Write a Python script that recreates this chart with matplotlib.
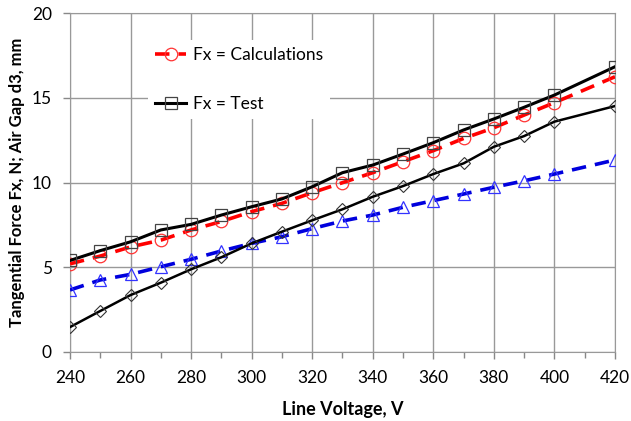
import matplotlib.pyplot as plt
from matplotlib.ticker import MultipleLocator

plt.rcParams['font.family'] = ['Lato', 'DejaVu Sans']

voltage = [240, 250, 260, 270, 280, 290, 300, 310, 320, 330, 340, 350, 360, 370, 380, 390, 400, 420]
fx_calc = [5.2, 5.66, 6.2, 6.6, 7.2, 7.7, 8.28, 8.77, 9.4, 9.99, 10.58, 11.23, 11.88, 12.6, 13.23, 13.98, 14.71, 16.24]
fx_test = [5.4, 5.98, 6.5, 7.2, 7.53, 8.08, 8.57, 9.03, 9.75, 10.58, 11.03, 11.68, 12.35, 13.1, 13.75, 14.44, 15.16, 16.83]
gap_test = [1.47, 2.42, 3.36, 4.09, 4.88, 5.59, 6.41, 7.1, 7.77, 8.42, 9.16, 9.79, 10.5, 11.13, 12.11, 12.74, 13.59, 14.51]
gap_calc = [3.66, 4.25, 4.58, 5.03, 5.47, 5.96, 6.41, 6.8, 7.28, 7.73, 8.08, 8.54, 8.93, 9.32, 9.72, 10.1, 10.5, 11.33]

fig = plt.figure(figsize=(6.31, 4.21), dpi=100)
ax = fig.add_axes([70 / 631, (421 - 352) / 421, 545 / 631, 339 / 421])

ax.plot(voltage, gap_calc, color='#0000dd', lw=2.6, dashes=(4, 2.5),
        marker='^', ms=8, mfc='none', mec='#3333ff', mew=0.9, zorder=3)
ax.plot(voltage, gap_test, color='black', lw=1.8,
        marker='D', ms=6, mfc='none', mec='#333333', mew=0.8, zorder=4)
ax.plot(voltage, fx_calc, color='red', lw=2.6, dashes=(4, 2.5),
        marker='o', ms=9, mfc='none', mec='#ff3333', mew=0.9, label='Fx = Calculations', zorder=5)
ax.plot(voltage, fx_test, color='black', lw=2.2,
        marker='s', ms=9, mfc='none', mec='#444444', mew=0.9, label='Fx = Test', zorder=6)

ax.set_xlim(240, 420)
ax.set_ylim(0, 20)
ax.xaxis.set_major_locator(MultipleLocator(20))
ax.xaxis.set_minor_locator(MultipleLocator(10))
ax.yaxis.set_major_locator(MultipleLocator(5))
ax.grid(True, which='major', color='#999999', lw=1)
ax.set_axisbelow(True)
for s in ax.spines.values():
    s.set_color('#999999')
ax.tick_params(which='both', colors='#888888', labelcolor='black', labelsize=12.5, length=5, width=1)
ax.tick_params(which='minor', length=4)
ax.tick_params(axis='x', pad=8)
ax.tick_params(axis='y', pad=8)

ax.set_xlabel('Line Voltage, V', fontsize=13, fontweight='bold', labelpad=11)
ax.set_ylabel('Tangential Force Fx, N; Air Gap d3, mm', fontsize=12, fontweight='bold', labelpad=5)

leg = ax.legend(loc='upper left', bbox_to_anchor=(0.143, 0.92), frameon=True, fancybox=False,
                fontsize=12.5, handlelength=1.8, handletextpad=0.4, labelspacing=1.9,
                borderpad=0.4, borderaxespad=0)
leg.get_frame().set_edgecolor('none')
leg.get_frame().set_facecolor('white')
leg.get_frame().set_alpha(1)

fig.savefig('out.png', dpi=100)
plt.close(fig)
